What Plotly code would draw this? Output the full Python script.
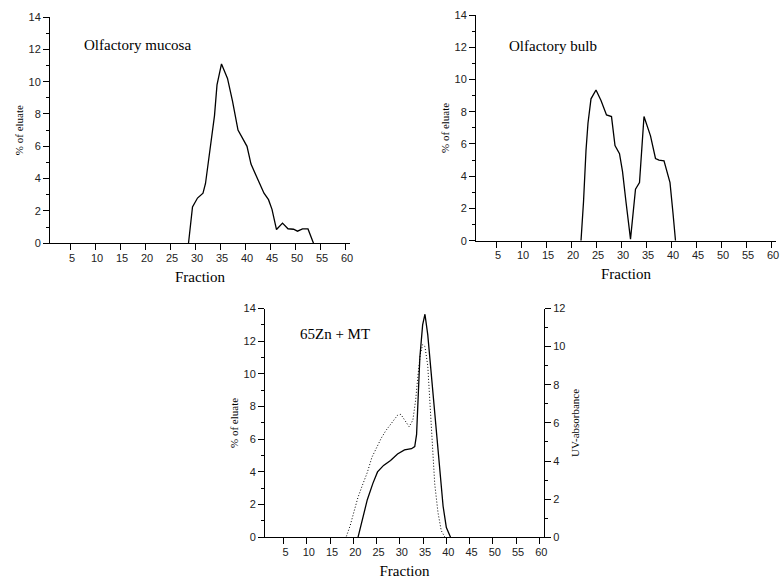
import plotly.graph_objects as go

# ---------------- data ----------------
mucosa_x = [28.7, 29.5, 30.5, 31.6, 32.1, 33.1, 33.9, 34.4, 35.3, 36.5, 37.5, 38.6, 39.5, 40.4,
            41.2, 42.2, 43.0, 43.8, 44.7, 45.4, 46.3, 47.5, 48.6, 49.7, 50.5, 51.5, 52.6, 53.7]
mucosa_y = [0, 2.25, 2.8, 3.1, 3.7, 5.9, 7.9, 9.8, 11.1, 10.2, 8.8, 7.0, 6.5, 6.0,
            4.9, 4.2, 3.7, 3.1, 2.7, 2.1, 0.85, 1.25, 0.9, 0.87, 0.75, 0.89, 0.89, 0]

bulb_x = [22.0, 22.5, 23.0, 23.4, 24.0, 25.0, 26.0, 27.1, 28.1, 28.8, 29.7, 30.3, 31.0,
          31.9, 32.9, 33.7, 34.6, 35.9, 36.9, 37.6, 38.6, 39.2, 39.8, 40.4, 40.9]
bulb_y = [0, 2.4, 5.6, 7.3, 8.8, 9.35, 8.7, 7.8, 7.7, 5.9, 5.4, 4.3, 2.4,
          0.1, 3.2, 3.6, 7.7, 6.5, 5.1, 5.0, 4.95, 4.3, 3.6, 1.7, 0]

zn_x = [21.0, 21.9, 23.0, 24.2, 25.2, 26.5, 28.0, 29.5, 31.0, 32.5, 33.2, 33.6, 33.9,
        34.3, 34.9, 35.4, 36.0, 37.0, 38.2, 39.3, 40.0, 40.9]
zn_y = [0, 1.1, 2.3, 3.3, 4.0, 4.4, 4.7, 5.1, 5.35, 5.42, 5.55, 6.3, 8.4,
        11.0, 13.0, 13.65, 12.4, 9.2, 5.4, 1.9, 0.6, 0]

uv_x = [18.5, 19.3, 20.2, 21.0, 21.9, 23.0, 24.0, 25.0, 26.0, 27.0, 28.5, 29.5, 30.2, 31.2,
        32.0, 32.8, 33.4, 33.9, 34.4, 34.9, 35.4, 36.0, 36.5, 37.0, 37.5, 38.2, 38.9, 39.7]
uv_y = [0.05, 0.6, 1.4, 2.1, 2.7, 3.4, 4.2, 4.7, 5.2, 5.6, 6.1, 6.4, 6.45, 6.1,
        5.8, 6.15, 7.2, 8.5, 9.6, 10.1, 10.0, 9.0, 6.8, 4.3, 2.8, 1.3, 0.35, 0]

x_ticks = [5, 10, 15, 20, 25, 30, 35, 40, 45, 50, 55, 60]
eluate_ticks = [0, 2, 4, 6, 8, 10, 12, 14]
uv_ticks = [0, 2, 4, 6, 8, 10, 12]

panel_labels = ["Olfactory mucosa", "Olfactory bulb", "65Zn + MT"]
x_title = "Fraction"
y_title = "% of eluate"
y2_title = "UV-absorbance"

# ---------------- figure ----------------
W, H = 783, 581
serif = "Liberation Serif, Times New Roman, serif"
sans = "Liberation Sans, Arial, sans-serif"

fig = go.Figure()
line = dict(color="black", width=1.3)
fig.add_trace(go.Scatter(x=mucosa_x, y=mucosa_y, mode="lines", line=line, xaxis="x", yaxis="y"))
fig.add_trace(go.Scatter(x=bulb_x, y=bulb_y, mode="lines", line=line, xaxis="x2", yaxis="y2"))
fig.add_trace(go.Scatter(x=zn_x, y=zn_y, mode="lines", line=line, xaxis="x3", yaxis="y3"))
fig.add_trace(go.Scatter(x=uv_x, y=uv_y, mode="lines",
                         line=dict(color="black", width=1, dash="1px,2px"),
                         xaxis="x3", yaxis="y4"))


def fx(px):
    return px / W


def fy(py):
    return (H - py) / H


def px_x(a, b):
    return [fx(a), fx(b)]


def px_y(top, bottom):
    return [fy(bottom), fy(top)]


def xaxis(domain, anchor):
    return dict(domain=domain, anchor=anchor, range=[1, 61], showline=True, linecolor="black",
                linewidth=1, showgrid=False, zeroline=False, ticks="outside", ticklen=6,
                tickcolor="black", tickvals=x_ticks, ticklabelshift=2, ticklabelstandoff=-2,
                ticklabeloverflow="allow", automargin=False,
                tickfont=dict(family=sans, size=11, color="#222"),
                title=dict(text=x_title, font=dict(family=serif, size=15, color="black"),
                           standoff=8))


def yaxis(domain, anchor, ticks_, rng, title, side="left", overlaying=None, standoff=2):
    d = dict(domain=domain, anchor=anchor, range=rng, showline=True, linecolor="black",
             linewidth=1, showgrid=False, zeroline=False, ticks="outside", ticklen=6,
             tickcolor="black", tickvals=ticks_, side=side, automargin=False,
             minor=dict(dtick=1, ticks="outside", ticklen=3, tickcolor="black"),
             tickfont=dict(family=sans, size=11, color="#222"),
             title=dict(text=title, font=dict(family=serif, size=11, color="black"),
                        standoff=standoff))
    if overlaying:
        d["overlaying"] = overlaying
    return d


fig.update_layout(
    width=W, height=H,
    margin=dict(l=0, r=0, t=0, b=0, autoexpand=False),
    paper_bgcolor="white", plot_bgcolor="white",
    showlegend=False,
    xaxis=xaxis(px_x(50, 350), "y"),
    yaxis=yaxis(px_y(17, 243.3), "x", eluate_ticks, [0, 14], y_title),
    xaxis2=xaxis(px_x(476, 776), "y2"),
    yaxis2=yaxis(px_y(15, 240.7), "x2", eluate_ticks, [0, 14], y_title),
    xaxis3=xaxis(px_x(265, 544), "y3"),
    yaxis3=yaxis(px_y(308.5, 537.3), "x3", eluate_ticks, [0, 14], y_title),
    yaxis4=yaxis(px_y(308.5, 537.3), "x3", uv_ticks, [0, 12], y2_title,
                 side="right", overlaying="y3", standoff=6),
)

ann_font = dict(family=serif, size=15, color="black")
fig.add_annotation(text=panel_labels[0], x=fx(82), y=fy(45), xref="paper", yref="paper",
                   xanchor="left", yanchor="middle", showarrow=False, font=ann_font)
fig.add_annotation(text=panel_labels[1], x=fx(507), y=fy(46), xref="paper", yref="paper",
                   xanchor="left", yanchor="middle", showarrow=False, font=ann_font)
fig.add_annotation(text=panel_labels[2], x=fx(298), y=fy(334), xref="paper", yref="paper",
                   xanchor="left", yanchor="middle", showarrow=False, font=ann_font)

# remove the default page margin so the 783x581 figure fills the window exactly
fig.write_html("out.html",
               config={"displayModeBar": False, "staticPlot": True},
               post_script="document.body.style.margin='0';"
                           "document.body.style.overflow='hidden';")
